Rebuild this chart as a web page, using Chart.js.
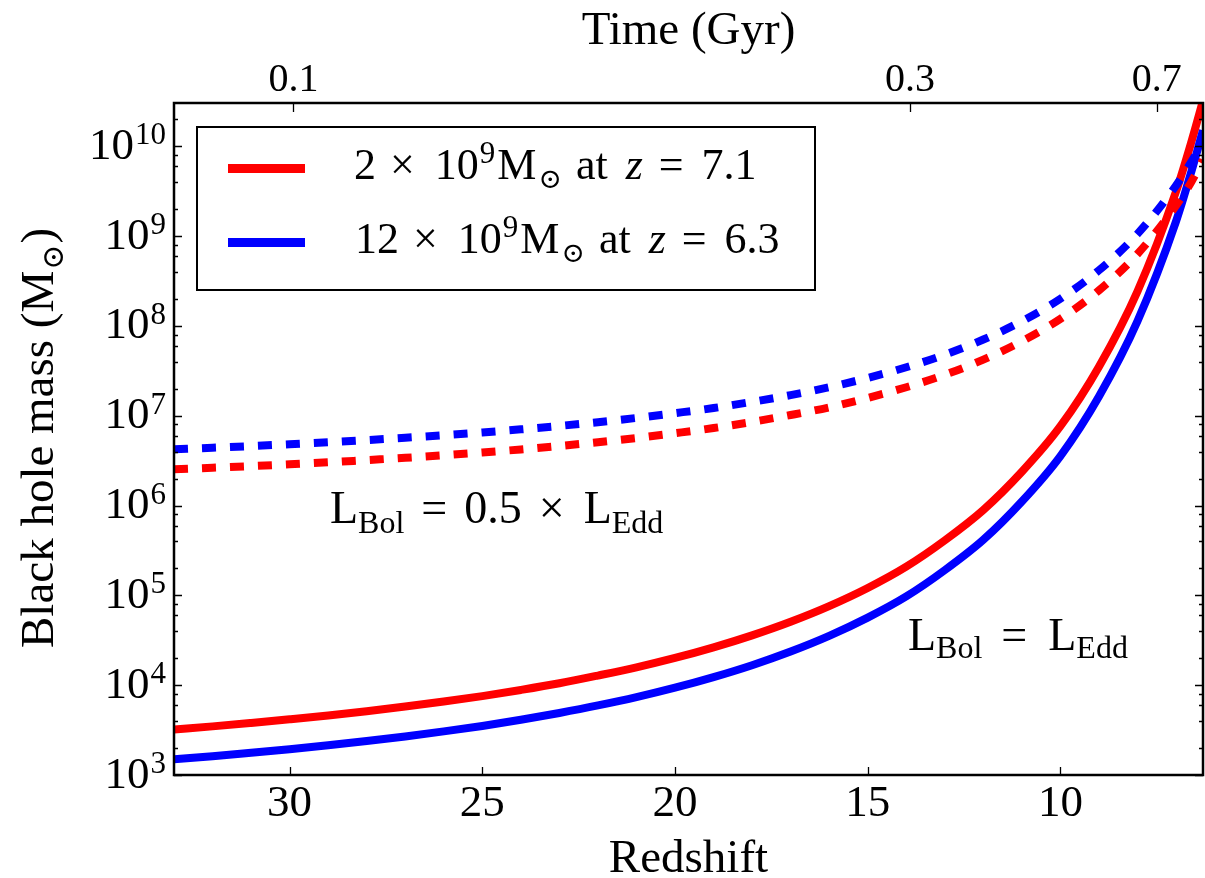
<!DOCTYPE html>
<html>
<head>
<meta charset="utf-8">
<script src="https://cdn.jsdelivr.net/npm/chart.js@4"></script>
<style>
  html, body { margin: 0; padding: 0; background: #fff; }
  canvas { display: block; }
</style>
</head>
<body>
<canvas id="bhChart" width="1205" height="878"></canvas>
<script>
// redshift samples
const redshift = [33, 32, 31, 30, 29, 28, 27, 26, 25, 24, 23, 22, 21, 20, 19, 18, 17, 16, 15, 14,
    13, 12, 11, 10, 9, 8, 7, 6.6, 6.3];

// L_Bol = L_Edd (solid)
const massRedEdd = [3.22e3, 3.48e3, 3.80e3, 4.17e3, 4.60e3, 5.13e3, 5.78e3, 6.57e3, 7.56e3, 8.85e3,
    1.05e4, 1.28e4, 1.58e4, 2.01e4, 2.64e4, 3.59e4, 5.09e4, 7.60e4, 1.21e5, 2.09e5,
    4.10e5, 8.94e5, 2.38e6, 7.65e6, 3.52e7, 2.43e8, 3.14e9, 1.13e10, 3.24e10];
const massBlueEdd = [1.50e3, 1.62e3, 1.77e3, 1.94e3, 2.14e3, 2.39e3, 2.69e3, 3.06e3, 3.52e3, 4.12e3,
    4.91e3, 5.95e3, 7.36e3, 9.37e3, 1.23e4, 1.67e4, 2.37e4, 3.54e4, 5.65e4, 9.73e4,
    1.91e5, 4.16e5, 1.11e6, 3.56e6, 1.64e7, 1.13e8, 1.46e9, 5.28e9, 1.51e10];

// L_Bol = 0.5 x L_Edd (dashed)
const massRedHalf = [2.54e6, 2.64e6, 2.75e6, 2.88e6, 3.03e6, 3.21e6, 3.40e6, 3.63e6, 3.90e6, 4.22e6,
    4.61e6, 5.08e6, 5.66e6, 6.40e6, 7.30e6, 8.55e6, 1.02e7, 1.24e7, 1.58e7, 2.08e7,
    2.86e7, 4.22e7, 6.76e7, 1.20e8, 2.49e8, 6.34e8, 2.19e9, 4.04e9, 7.08e9];
const massBlueHalf = [4.24e6, 4.41e6, 4.60e6, 4.82e6, 5.07e6, 5.36e6, 5.69e6, 6.07e6, 6.52e6, 7.06e6,
    7.71e6, 8.49e6, 9.46e6, 1.07e7, 1.22e7, 1.43e7, 1.70e7, 2.08e7, 2.64e7, 3.47e7,
    4.79e7, 7.06e7, 1.13e8, 2.01e8, 4.17e8, 1.06e9, 3.66e9, 6.75e9, 1.13e10];

const redshiftTicks = [30, 25, 20, 15, 10];
const timeTicks = [29.9, 13.9, 7.5];      // redshift where each age falls
const timeLabels = ["0.1", "0.3", "0.7"];
const massExponents = [3, 4, 5, 6, 7, 8, 9, 10];

const SERIF = "'Liberation Serif', 'DejaVu Serif', serif";
const RED = "#ff0000";
const BLUE = "#0000ff";

function points(masses) {
    return redshift.map((z, i) => ({ x: z, y: masses[i] }));
}

// draws a run of text pieces (for sub/superscripts), returns end x
function drawRun(ctx, x, y, parts) {
    let cx = x;
    parts.forEach(p => {
        cx += p.gap || 0;
        ctx.font = (p.it ? "italic " : "") + p.size + "px " + SERIF;
        ctx.fillText(p.t, cx, y + (p.dy || 0));
        cx += ctx.measureText(p.t).width;
    });
    return cx;
}

function runWidth(ctx, parts) {
    let w = 0;
    parts.forEach(p => {
        ctx.font = (p.it ? "italic " : "") + p.size + "px " + SERIF;
        w += (p.gap || 0) + ctx.measureText(p.t).width;
    });
    return w;
}

function legendParts(mult, zval) {
    return [
        { t: mult, size: 44 },
        { t: "\u00d7", size: 44, gap: 14 },
        { t: "10", size: 44, gap: 20 },
        { t: "9", size: 31, dy: -16, gap: 1 },
        { t: "M", size: 44, gap: 2 },
        { t: "\u2299", size: 28, dy: 9, gap: 2 },
        { t: "at", size: 44, gap: 14 },
        { t: "z", size: 44, it: true, gap: 18 },
        { t: "=", size: 44, gap: 16 },
        { t: zval, size: 44, gap: 18 }
    ];
}

const decor = {
    id: "decor",
    beforeDraw(chart) {
        const ctx = chart.ctx;
        ctx.save();
        ctx.fillStyle = "#fff";
        ctx.fillRect(0, 0, chart.width, chart.height);
        ctx.restore();
    },
    afterDraw(chart) {
        const ctx = chart.ctx;
        const a = chart.chartArea;
        const ys = chart.scales.y;
        const xs = chart.scales.x;
        const xt = chart.scales.xTime;

        ctx.save();
        ctx.strokeStyle = "#000";
        ctx.fillStyle = "#000";

        // tick marks, pointing inwards
        ctx.lineWidth = 1.3;
        ctx.beginPath();
        massExponents.forEach(e => {
            const py = Math.round(ys.getPixelForValue(Math.pow(10, e))) + 0.5;
            ctx.moveTo(a.left, py); ctx.lineTo(a.left + 8, py);
            ctx.moveTo(a.right, py); ctx.lineTo(a.right - 8, py);
            [2, 4, 6, 8].forEach(m => {
                const v = m * Math.pow(10, e);
                if (v > ys.max) return;
                const my = Math.round(ys.getPixelForValue(v)) + 0.5;
                ctx.moveTo(a.left, my); ctx.lineTo(a.left + 4, my);
                ctx.moveTo(a.right, my); ctx.lineTo(a.right - 4, my);
            });
        });
        redshiftTicks.forEach(z => {
            const px = Math.round(xs.getPixelForValue(z)) + 0.5;
            ctx.moveTo(px, a.bottom); ctx.lineTo(px, a.bottom - 8);
        });
        timeTicks.forEach(z => {
            const px = Math.round(xt.getPixelForValue(z)) + 0.5;
            ctx.moveTo(px, a.top); ctx.lineTo(px, a.top + 9);
        });
        ctx.stroke();

        // frame
        ctx.lineWidth = 2.5;
        ctx.strokeRect(a.left, a.top, a.right - a.left, a.bottom - a.top);

        // y tick labels 10^n
        ctx.textBaseline = "alphabetic";
        ctx.textAlign = "left";
        massExponents.forEach(e => {
            const py = ys.getPixelForValue(Math.pow(10, e));
            const parts = [{ t: "10", size: 45 }, { t: String(e), size: 31, dy: -14.5, gap: 1 }];
            const w = runWidth(ctx, parts);
            drawRun(ctx, 166 - w, py + 12.5, parts);
        });

        // y axis title
        ctx.save();
        ctx.translate(53, 648);
        ctx.rotate(-Math.PI / 2);
        drawRun(ctx, 0, 0, [
            { t: "Black hole mass (M", size: 47 },
            { t: "\u2299", size: 30, dy: 10, gap: 1 },
            { t: ")", size: 47, gap: 1 }
        ]);
        ctx.restore();

        // legend
        ctx.fillStyle = "#fff";
        ctx.fillRect(197, 127, 618, 163);
        ctx.lineWidth = 2;
        ctx.strokeStyle = "#000";
        ctx.strokeRect(197, 127, 618, 163);
        ctx.lineWidth = 9;
        ctx.lineCap = "butt";
        ctx.strokeStyle = RED;
        ctx.beginPath(); ctx.moveTo(228, 168.5); ctx.lineTo(305, 168.5); ctx.stroke();
        ctx.strokeStyle = BLUE;
        ctx.beginPath(); ctx.moveTo(228, 242.5); ctx.lineTo(305, 242.5); ctx.stroke();
        ctx.fillStyle = "#000";
        drawRun(ctx, 354, 179, legendParts("2", "7.1"));
        drawRun(ctx, 355, 253, legendParts("12", "6.3"));

        // curve annotations
        drawRun(ctx, 330, 523, [
            { t: "L", size: 46 },
            { t: "Bol", size: 32, dy: 10 },
            { t: "=", size: 46, gap: 17 },
            { t: "0.5", size: 46, gap: 17 },
            { t: "\u00d7", size: 46, gap: 17 },
            { t: "L", size: 46, gap: 19 },
            { t: "Edd", size: 32, dy: 10 }
        ]);
        drawRun(ctx, 908, 650, [
            { t: "L", size: 46 },
            { t: "Bol", size: 32, dy: 8 },
            { t: "=", size: 46, gap: 19 },
            { t: "L", size: 46, gap: 21 },
            { t: "Edd", size: 32, dy: 8 }
        ]);
        ctx.restore();
    }
};

const lineSet = (label, masses, color, dashed) => ({
    label: label,
    data: points(masses),
    borderColor: color,
    backgroundColor: color,
    borderWidth: 8,
    borderDash: dashed ? [14, 14] : [],
    borderCapStyle: "butt",
    pointRadius: 0,
    fill: false,
    clip: 0,
    cubicInterpolationMode: "monotone"
});

const chart = new Chart(document.getElementById("bhChart"), {
    type: "line",
    data: {
        // first dataset is painted last (on top)
        datasets: [
            lineSet("12e9 Msun at z=6.3, 0.5 L_Edd", massBlueHalf, BLUE, true),
            lineSet("2e9 Msun at z=7.1, 0.5 L_Edd", massRedHalf, RED, true),
            lineSet("12e9 Msun at z=6.3, L_Edd", massBlueEdd, BLUE, false),
            lineSet("2e9 Msun at z=7.1, L_Edd", massRedEdd, RED, false)
        ]
    },
    options: {
        responsive: false,
        animation: false,
        devicePixelRatio: 1,
        layout: { padding: { left: 0, right: 2, top: 0, bottom: 0 } },
        plugins: {
            legend: { display: false },
            tooltip: { enabled: false }
        },
        scales: {
            x: {
                type: "linear",
                position: "bottom",
                reverse: true,
                min: 6.3,
                max: 33,
                afterBuildTicks: s => { s.ticks = redshiftTicks.map(v => ({ value: v })); },
                afterFit: s => { s.height = 103; },
                grid: { display: false, drawTicks: false },
                border: { display: false },
                ticks: {
                    autoSkip: false,
                    maxRotation: 0,
                    color: "#000",
                    padding: 6.5,
                    font: { family: SERIF, size: 45, lineHeight: 1 }
                },
                title: {
                    display: true,
                    text: "Redshift",
                    color: "#000",
                    font: { family: SERIF, size: 47, lineHeight: 1 },
                    padding: { top: 0, bottom: -5 }
                }
            },
            xTime: {
                type: "linear",
                position: "top",
                reverse: true,
                min: 6.3,
                max: 33,
                afterBuildTicks: s => { s.ticks = timeTicks.map(v => ({ value: v })); },
                afterFit: s => { s.height = 103; },
                grid: { display: false, drawTicks: false },
                border: { display: false },
                ticks: {
                    autoSkip: false,
                    maxRotation: 0,
                    color: "#000",
                    padding: 2.5,
                    font: { family: SERIF, size: 40, lineHeight: 1 },
                    callback: v => timeLabels[timeTicks.indexOf(v)]
                },
                title: {
                    display: true,
                    text: "Time (Gyr)",
                    color: "#000",
                    font: { family: SERIF, size: 47, lineHeight: 1 },
                    padding: { top: 8, bottom: 0 }
                }
            },
            y: {
                type: "logarithmic",
                min: 1e3,
                max: 3.04e10,
                afterFit: s => { s.width = 174; },
                grid: { display: false, drawTicks: false },
                border: { display: false },
                ticks: { display: false }
            }
        }
    },
    plugins: [decor]
});
</script>
</body>
</html>
